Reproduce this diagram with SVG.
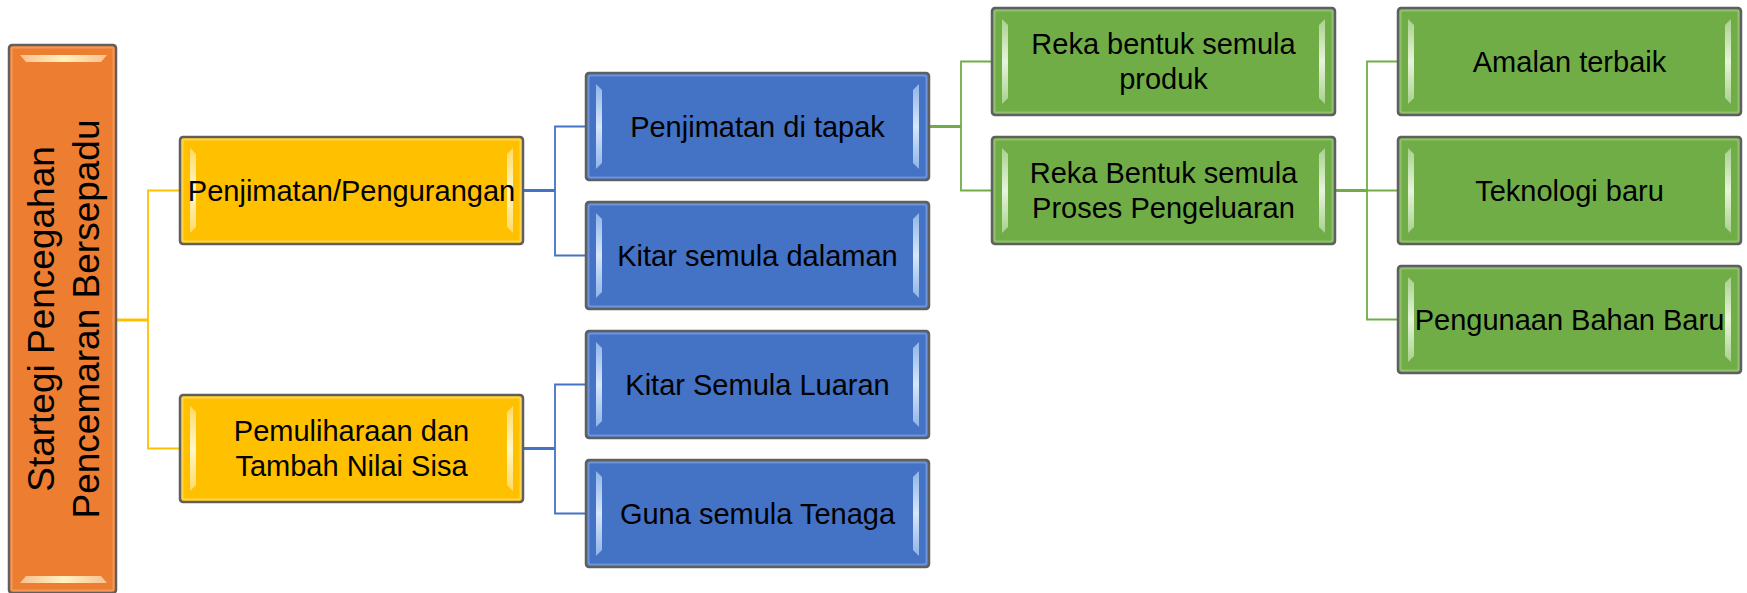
<svg xmlns="http://www.w3.org/2000/svg" xmlns:xlink="http://www.w3.org/1999/xlink" width="1747" height="593" viewBox="0 0 1747 593">
  <style>
    .lbl { font-family: "Liberation Sans", Arial, sans-serif; font-size: 29px; fill: #000; text-anchor: middle; }
    .big { font-family: "Liberation Sans", Arial, sans-serif; font-size: 37px; fill: #000; text-anchor: middle; }
    .frame { stroke: #5f5f5f; stroke-width: 2.5; }
    .rim { fill: none; stroke-width: 2; stroke-opacity: 0.55; }
    .cy { stroke: #FFC000; fill: none; }
    .cb { stroke: #4472C4; fill: none; }
    .cg { stroke: #70AD47; fill: none; }
    .thick { stroke-width: 3; }
    .thin { stroke-width: 1.8; }
  </style>
  <defs>
    <linearGradient id="gy" x1="0" y1="0" x2="0" y2="1">
      <stop offset="0" stop-color="#ffd966"/>
      <stop offset="0.5" stop-color="#fff8c8"/>
      <stop offset="1" stop-color="#ffd966"/>
    </linearGradient>
    <linearGradient id="gb" x1="0" y1="0" x2="0" y2="1">
      <stop offset="0" stop-color="#8fb4e8"/>
      <stop offset="0.5" stop-color="#d6e6fb"/>
      <stop offset="1" stop-color="#8fb4e8"/>
    </linearGradient>
    <linearGradient id="gg" x1="0" y1="0" x2="0" y2="1">
      <stop offset="0" stop-color="#a9d18e"/>
      <stop offset="0.5" stop-color="#e6f4da"/>
      <stop offset="1" stop-color="#a9d18e"/>
    </linearGradient>
    <linearGradient id="go" x1="0" y1="0" x2="1" y2="0">
      <stop offset="0" stop-color="#f8c090"/>
      <stop offset="0.5" stop-color="#fff2c0"/>
      <stop offset="1" stop-color="#f8c090"/>
    </linearGradient>
    <g id="box-y">
      <rect class="frame" x="0" y="0" width="343" height="107" rx="3" fill="#FFC000"/>
      <rect class="rim" x="2.5" y="2.5" width="338" height="102" rx="2" stroke="#ffe28a"/>
      <polygon points="10,11 16,17 16,90 10,96" fill="url(#gy)"/>
      <polygon points="333,11 327,17 327,90 333,96" fill="url(#gy)"/>
    </g>
    <g id="box-b">
      <rect class="frame" x="0" y="0" width="343" height="107" rx="3" fill="#4472C4"/>
      <rect class="rim" x="2.5" y="2.5" width="338" height="102" rx="2" stroke="#8fb0e6"/>
      <polygon points="10,11 16,17 16,90 10,96" fill="url(#gb)"/>
      <polygon points="333,11 327,17 327,90 333,96" fill="url(#gb)"/>
    </g>
    <g id="box-g">
      <rect class="frame" x="0" y="0" width="343" height="107" rx="3" fill="#70AD47"/>
      <rect class="rim" x="2.5" y="2.5" width="338" height="102" rx="2" stroke="#a9d18e"/>
      <polygon points="10,11 16,17 16,90 10,96" fill="url(#gg)"/>
      <polygon points="333,11 327,17 327,90 333,96" fill="url(#gg)"/>
    </g>
  </defs>

  <g id="connectors">
    <path class="cy thick" d="M116,320 H148"/>
    <path class="cy thin" d="M180,190.5 H148 V448.5 H180"/>
    <path class="cb thick" d="M523,190.5 H555"/>
    <path class="cb thin" d="M586,126.5 H555 V255.5 H586"/>
    <path class="cb thick" d="M523,448.5 H555"/>
    <path class="cb thin" d="M586,384.5 H555 V513.5 H586"/>
    <path class="cg thick" d="M929,126.5 H961"/>
    <path class="cg thin" d="M992,61.5 H961 V190.5 H992"/>
    <path class="cg thick" d="M1335,190.5 H1367"/>
    <path class="cg thin" d="M1398,61.5 H1367 V319.5 H1398 M1367,190.5 H1398"/>
  </g>

  <g id="n-root">
    <rect class="frame" x="9" y="45" width="107" height="548" rx="3" fill="#ED7D31"/>
    <rect class="rim" x="11.5" y="47.5" width="102" height="543" rx="2" stroke="#f6b07a"/>
    <polygon points="20,55 107,55 101,62 26,62" fill="url(#go)"/>
    <polygon points="20,583 107,583 101,576 26,576" fill="url(#go)"/>
    <text class="big" transform="translate(0,319) rotate(-90)"><tspan x="0" y="54">Startegi Pencegahan</tspan><tspan x="0" y="99">Pencemaran Bersepadu</tspan></text>
  </g>

  <g id="n-penjimatan">
    <use href="#box-y" x="180" y="137"/>
    <text class="lbl" x="351.5" y="201">Penjimatan/Pengurangan</text>
  </g>
  <g id="n-pemuliharaan">
    <use href="#box-y" x="180" y="395"/>
    <text class="lbl" x="351.5" y="440.5">Pemuliharaan dan</text>
    <text class="lbl" x="351.5" y="475.5">Tambah Nilai Sisa</text>
  </g>

  <g id="n-tapak">
    <use href="#box-b" x="586" y="73"/>
    <text class="lbl" x="757.5" y="137">Penjimatan di tapak</text>
  </g>
  <g id="n-dalaman">
    <use href="#box-b" x="586" y="202"/>
    <text class="lbl" x="757.5" y="266">Kitar semula dalaman</text>
  </g>
  <g id="n-luaran">
    <use href="#box-b" x="586" y="331"/>
    <text class="lbl" x="757.5" y="395">Kitar Semula Luaran</text>
  </g>
  <g id="n-tenaga">
    <use href="#box-b" x="586" y="460"/>
    <text class="lbl" x="757.5" y="524">Guna semula Tenaga</text>
  </g>

  <g id="n-produk">
    <use href="#box-g" x="992" y="8"/>
    <text class="lbl" x="1163.5" y="53.5">Reka bentuk semula</text>
    <text class="lbl" x="1163.5" y="88.5">produk</text>
  </g>
  <g id="n-proses">
    <use href="#box-g" x="992" y="137"/>
    <text class="lbl" x="1163.5" y="182.5">Reka Bentuk semula</text>
    <text class="lbl" x="1163.5" y="217.5">Proses Pengeluaran</text>
  </g>

  <g id="n-amalan">
    <use href="#box-g" x="1398" y="8"/>
    <text class="lbl" x="1569.5" y="71.5">Amalan terbaik</text>
  </g>
  <g id="n-teknologi">
    <use href="#box-g" x="1398" y="137"/>
    <text class="lbl" x="1569.5" y="200.5">Teknologi baru</text>
  </g>
  <g id="n-bahan">
    <use href="#box-g" x="1398" y="266"/>
    <text class="lbl" x="1569.5" y="329.5">Pengunaan Bahan Baru</text>
  </g>
</svg>
